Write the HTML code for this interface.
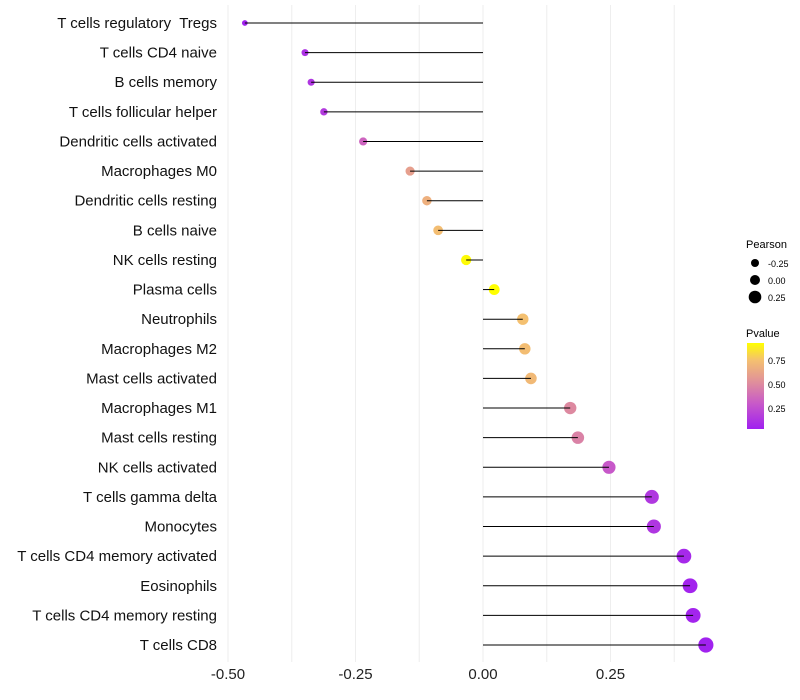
<!DOCTYPE html>
<html><head><meta charset="utf-8"><style>
body{margin:0;background:#fff;}
svg{display:block;font-family:"Liberation Sans",sans-serif;}
text{white-space:pre;}
</style></head><body>
<svg id="chart" width="800" height="700">
<defs><linearGradient id="pg" x1="0" y1="1" x2="0" y2="0">
<stop offset="0" stop-color="#a020f0"/><stop offset="0.3" stop-color="#c85ac8"/><stop offset="0.55" stop-color="#e0909a"/><stop offset="0.8" stop-color="#f4c070"/><stop offset="1" stop-color="#ffff00"/></linearGradient></defs>
<g id="grid"></g><g id="points"></g><g id="stems"></g><g id="labels"></g>
<g>
<text x="746" y="248" font-size="11">Pearson</text>
<circle cx="755" cy="263" r="4"/><text x="768" y="267" font-size="9">-0.25</text>
<circle cx="755" cy="280" r="5"/><text x="768" y="284" font-size="9">0.00</text>
<circle cx="755" cy="297" r="6.3"/><text x="768" y="301" font-size="9">0.25</text>
<text x="746" y="337" font-size="11">Pvalue</text>
<rect x="747" y="343" width="17" height="86" fill="url(#pg)"/>
<text x="768" y="364" font-size="9">0.75</text>
<text x="768" y="388" font-size="9">0.50</text>
<text x="768" y="412" font-size="9">0.25</text>
</g>
</svg>
<script>
const cells=["T cells regulatory  Tregs","T cells CD4 naive","B cells memory","T cells follicular helper","Dendritic cells activated","Macrophages M0","Dendritic cells resting","B cells naive","NK cells resting","Plasma cells","Neutrophils","Macrophages M2","Mast cells activated","Macrophages M1","Mast cells resting","NK cells activated","T cells gamma delta","Monocytes","T cells CD4 memory activated","Eosinophils","T cells CD4 memory resting","T cells CD8"];
const pearson=[-0.467,-0.349,-0.337,-0.312,-0.235,-0.143,-0.110,-0.088,-0.033,0.022,0.078,0.082,0.094,0.171,0.186,0.247,0.331,0.335,0.394,0.406,0.412,0.437];
const pvalue=[0.05,0.12,0.14,0.16,0.35,0.6,0.68,0.74,0.92,0.95,0.75,0.74,0.72,0.5,0.47,0.3,0.15,0.14,0.08,0.06,0.06,0.05];
const ticks=[-0.5,-0.25,0,0.25];
const tickLabels=["-0.50","-0.25","0.00","0.25"];
const NS="http://www.w3.org/2000/svg";
const x=v=>483+v*510;
const y=i=>23+i*(622/21);
const r=v=>5.3+v*5.2;
const stops=[[0,[160,32,240]],[0.3,[200,90,200]],[0.55,[224,144,154]],[0.8,[244,192,112]],[1,[255,255,0]]];
function col(p){const t=Math.max(0,Math.min(1,(p-0.04)/(0.93-0.04)));for(let k=1;k<stops.length;k++){if(t<=stops[k][0]){const a=stops[k-1],b=stops[k],f=(t-a[0])/(b[0]-a[0]);return "rgb("+a[1].map((c,j)=>Math.round(c+(b[1][j]-c)*f)).join(",")+")";}}return "rgb(255,255,0)";}
function mk(tag,attrs,parent){const e=document.createElementNS(NS,tag);for(const k in attrs)e.setAttribute(k,attrs[k]);parent.appendChild(e);return e;}
const grid=document.getElementById('grid'),points=document.getElementById('points'),stems=document.getElementById('stems'),labels=document.getElementById('labels');
for(let t=-0.5;t<=0.45;t+=0.125){const g=mk('line',{x1:x(t),x2:x(t),y1:5,y2:662,stroke:'#eeeeee','stroke-width':1},grid);

}
ticks.forEach((t,i)=>{const e=mk('text',{x:x(t),y:679,'font-size':15,'text-anchor':'middle',fill:'#222'},labels);e.textContent=tickLabels[i];

});
cells.forEach((c,i)=>{const yy=y(i);
const t=mk('text',{x:217,y:yy+5,'font-size':15,'text-anchor':'end',fill:'#111'},labels);t.textContent=c;


const p=mk('circle',{cx:x(pearson[i]),cy:yy,r:Math.max(2,r(pearson[i])),fill:col(pvalue[i])},points);


const l=mk('line',{x1:x(0),x2:x(pearson[i]),y1:yy,y2:yy,stroke:'#000','stroke-width':1},stems);

});
</script>
</body></html>
